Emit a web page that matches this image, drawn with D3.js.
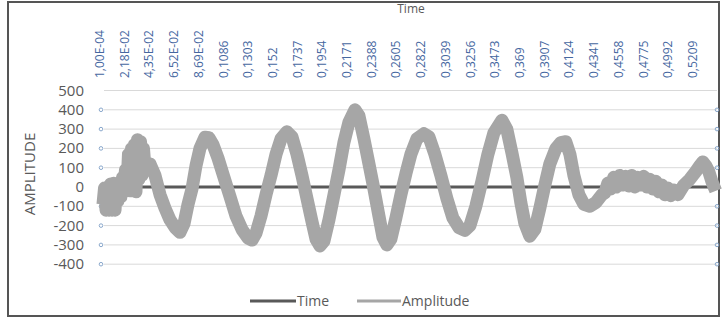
<!DOCTYPE html>
<meta charset="utf-8">
<style>
body { margin: 0; background: #fff; }
svg { display: block; font-family: "Open Sans", sans-serif; }
.grid line { stroke: #d9d9d9; stroke-width: 1; }
.ylab { fill: #595959; font-size: 15px; }
.xlab { fill: #46679f; font-size: 12px; }
</style>
<body>
<script src="https://cdn.jsdelivr.net/npm/d3@7"></script>
<script>

// category tick labels on the top axis and their time values
var catLabels = ["1,00E-04","2,18E-02","4,35E-02","6,52E-02","8,69E-02","0,1086","0,1303","0,152",
  "0,1737","0,1954","0,2171","0,2388","0,2605","0,2822","0,3039","0,3256","0,3473","0,369",
  "0,3907","0,4124","0,4341","0,4558","0,4775","0,4992","0,5209"];
var catTimes = [0.0001,0.0218,0.0435,0.0652,0.0869,0.1086,0.1303,0.152,0.1737,0.1954,0.2171,
  0.2388,0.2605,0.2822,0.3039,0.3256,0.3473,0.369,0.3907,0.4124,0.4341,0.4558,0.4775,0.4992,0.5209];

var yTicks = [500,400,300,200,100,0,-100,-200,-300,-400];

// "Time" series: value equals the time itself (looks flat at 0)
var timeT = [0.0001,0.1086,0.2171,0.3256,0.4341,0.542];
var timeV = [0.0001,0.1086,0.2171,0.3256,0.4341,0.542];

// "Amplitude" series
var ampT = [0.0027,0.0041,0.0054,0.0067,0.0080,0.0093,0.0106,0.0120,0.0133,0.0146,0.0159,0.0172,
  0.0185,0.0199,0.0212,0.0225,0.0238,0.0251,0.0264,0.0278,0.0291,0.0304,0.0317,0.0330,0.0343,
  0.0357,0.0370,0.0383,0.0396,0.0440,0.0484,0.0528,0.0572,0.0616,0.0660,0.0703,0.0739,0.0774,0.0809,
  0.0844,0.0879,0.0923,0.0958,0.0993,0.1037,0.1090,0.1143,0.1195,0.1248,0.1301,0.1336,0.1371,
  0.1415,0.1459,0.1503,0.1547,0.1591,0.1643,0.1687,0.1731,0.1775,0.1819,0.1863,0.1898,0.1933,
  0.1968,0.2012,0.2056,0.2100,0.2143,0.2187,0.2240,0.2275,0.2319,0.2363,0.2407,0.2451,0.2486,
  0.2521,0.2556,0.2600,0.2644,0.2688,0.2732,0.2784,0.2846,0.2890,0.2942,0.2995,0.3048,0.3100,
  0.3153,0.3206,0.3250,0.3302,0.3355,0.3408,0.3460,0.3531,0.3574,0.3618,0.3662,0.3697,0.3733,
  0.3776,0.3820,0.3864,0.3908,0.3952,0.4005,0.4049,0.4092,0.4128,0.4163,0.4207,0.4251,0.4303,
  0.4356,0.4409,0.4435,0.4461,0.4487,0.4513,0.4540,0.4566,0.4593,0.4619,0.4645,0.4672,0.4698,
  0.4725,0.4751,0.4777,0.4804,0.4830,0.4856,0.4883,0.4909,0.4935,0.4962,0.4988,0.5014,0.5041,
  0.5076,0.5129,0.5181,0.5234,0.5269,0.5295,0.5322,0.5348,0.5374,0.5409];
var ampV = [-90,-5,-120,0,-120,15,-120,20,-120,10,-70,10,
  -50,50,0,90,0,170,-20,200,-20,220,-25,245,40,
  235,60,200,100,120,60,-40,-110,-170,-210,-235,-190,-90,-10,
  110,200,258,255,220,150,50,-50,-150,-220,-265,-275,-240,
  -150,-40,60,170,250,286,260,170,60,-60,-180,-270,-305,
  -280,-170,-40,90,230,335,400,370,250,120,-10,-150,-260,
  -300,-270,-160,-40,70,170,250,276,260,170,60,-60,-160,
  -210,-225,-200,-100,30,170,280,346,300,180,50,-80,-190,
  -255,-220,-110,10,120,200,230,235,170,60,-40,-90,-100,
  -80,-40,-30,20,-10,50,0,60,10,55,5,60,0,
  50,10,55,0,40,-10,30,-25,10,-40,-5,-45,-15,
  -40,10,40,80,110,130,110,80,30,-20];

var W = 727, H = 318;
var svg = d3.select("body").append("svg").attr("width", W).attr("height", H);

var x = d3.scaleLinear().domain([0.0001, 0.542]).range([100, 717]);
var y = d3.scaleLinear().domain([-400, 500]).range([264.2, 90.5]);

// outer frame
svg.append("rect").attr("x", 8).attr("y", 2).attr("width", 711).attr("height", 314)
  .attr("fill", "none").attr("stroke", "#555").attr("stroke-width", 2);

// axis title at the top (mostly cut off in the original)
svg.append("text").attr("x", 411).attr("y", 13).attr("text-anchor", "middle")
  .attr("fill", "#595959").style("font-size", "12px").text("Time");

// gridlines
svg.append("g").attr("class", "grid").selectAll("line").data(yTicks).enter().append("line")
  .attr("x1", 104).attr("x2", 717)
  .attr("y1", function(d) { return y(d); }).attr("y2", function(d) { return y(d); });

// little markers at both edges
[101, 717].forEach(function(cx) {
  svg.append("g").selectAll("circle").data(yTicks.slice(1)).enter().append("circle")
    .attr("cx", cx).attr("cy", function(d) { return y(d); }).attr("r", 1.8)
    .attr("fill", "none").attr("stroke", "#8aa8cc").attr("stroke-width", 1);
});

// y labels
svg.append("g").selectAll("text").data(yTicks).enter().append("text")
  .attr("class", "ylab").attr("x", 84).attr("y", function(d) { return y(d) + 5; })
  .attr("text-anchor", "end").text(function(d) { return d; });

svg.append("text").attr("transform", "translate(35,174) rotate(-90)")
  .attr("text-anchor", "middle").attr("fill", "#595959").style("font-size", "15px")
  .text("AMPLITUDE");

// top category labels
svg.append("g").selectAll("text").data(catLabels).enter().append("text")
  .attr("class", "xlab")
  .attr("transform", function(d, i) { return "translate(" + (x(catTimes[i]) + 4) + ",78) rotate(-90)"; })
  .text(function(d) { return d; });

var line = d3.line().x(function(d) { return x(d[0]); }).y(function(d) { return y(d[1]); });

// Time series
svg.append("path").datum(d3.zip(timeT, timeV)).attr("d", line)
  .attr("fill", "none").attr("stroke", "#595959").attr("stroke-width", 3);

// Amplitude series
svg.append("path").datum(d3.zip(ampT, ampV)).attr("d", line)
  .attr("fill", "none").attr("stroke", "#a6a6a6").attr("stroke-width", 13)
  .attr("stroke-linejoin", "round");

// legend
var leg = svg.append("g");
leg.append("line").attr("x1", 250).attr("x2", 296).attr("y1", 301).attr("y2", 301)
  .attr("stroke", "#595959").attr("stroke-width", 3);
leg.append("text").attr("x", 297).attr("y", 306).attr("fill", "#595959")
  .style("font-size", "14px").text("Time");
leg.append("line").attr("x1", 357).attr("x2", 401).attr("y1", 301).attr("y2", 301)
  .attr("stroke", "#a6a6a6").attr("stroke-width", 3);
leg.append("text").attr("x", 402).attr("y", 306).attr("fill", "#595959")
  .style("font-size", "14px").text("Amplitude");

</script>
</body>
